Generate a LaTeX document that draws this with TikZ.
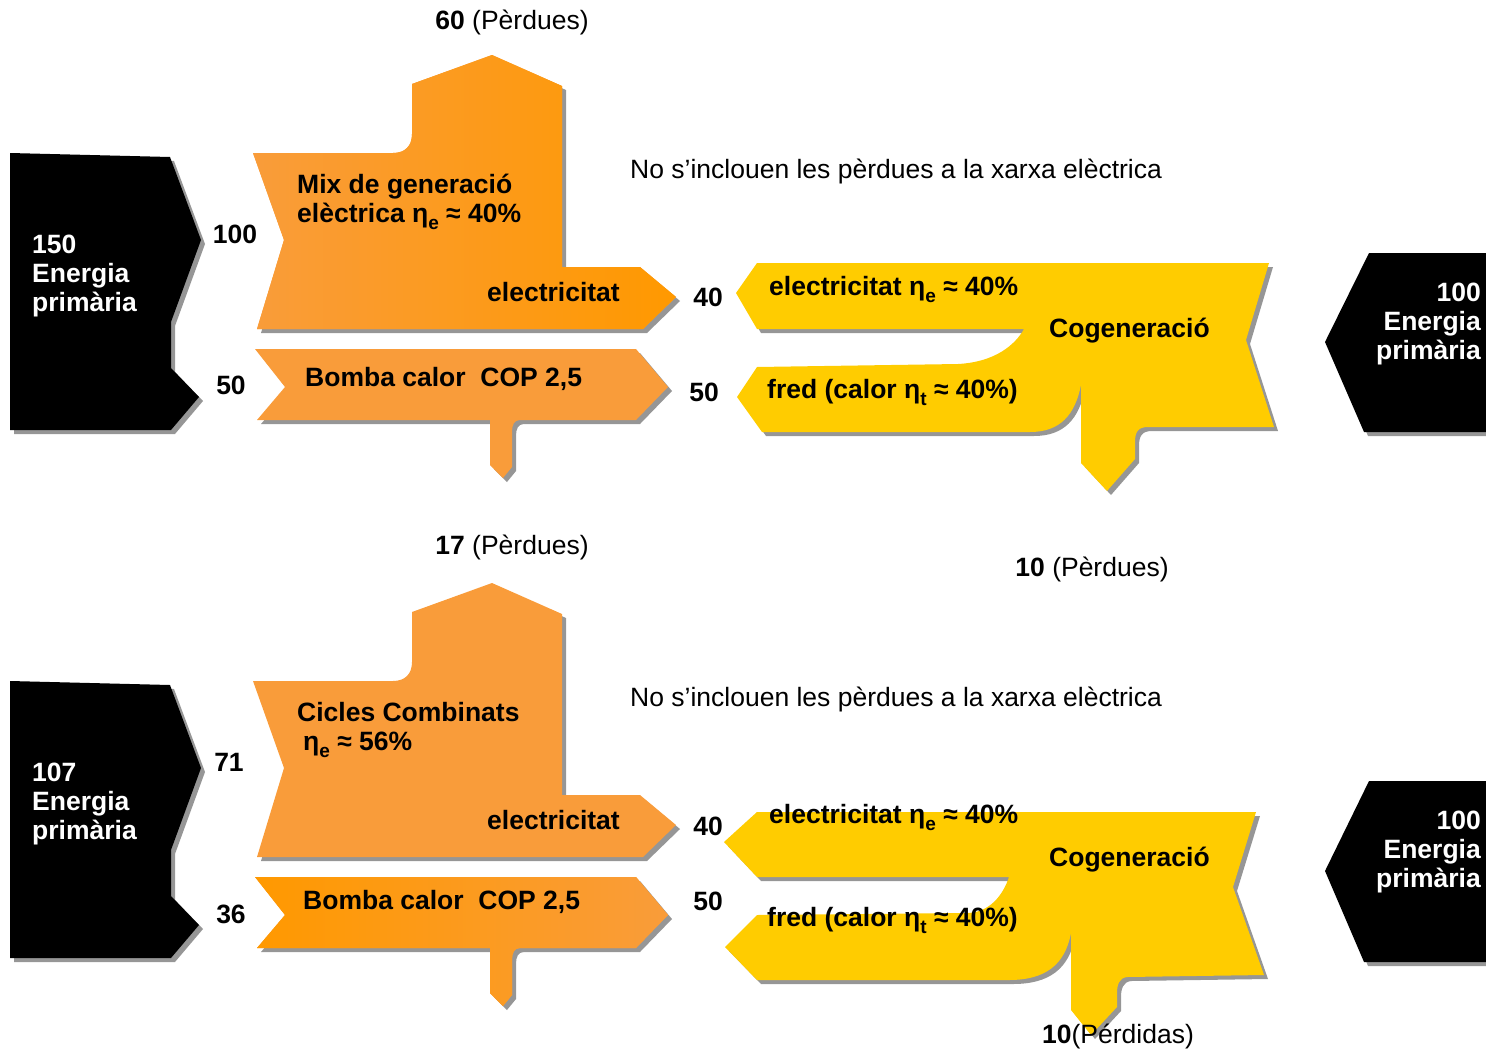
\documentclass[tikz,border=0pt]{standalone}
\usepackage{fontspec}
\setmainfont{Liberation Sans}
\usetikzlibrary{shadows}
\definecolor{mixorange}{RGB}{249,156,58}
\definecolor{deeporange}{RGB}{255,153,0}
\definecolor{cogenyellow}{RGB}{255,204,0}
\definecolor{shadowgray}{RGB}{150,150,150}
\newcommand{\flowsub}[1]{\raisebox{-7pt}{\fontsize{19}{19}\selectfont #1}}

\begin{document}
\begin{tikzpicture}[x=1pt,y=-1pt,
  flowshadow/.style={drop shadow={shadow xshift=4pt,shadow yshift=-4pt,fill=shadowgray,opacity=1}},
  primflow/.style={fill=black,flowshadow},
  elecflow/.style={fill=mixorange,flowshadow},
  cogenflow/.style={fill=cogenyellow,flowshadow},
  flowtext/.style={font=\fontsize{26.5}{29}\selectfont\bfseries,anchor=base west,inner sep=0pt},
  numlabel/.style={font=\fontsize{26.5}{29}\selectfont\bfseries,anchor=base,inner sep=0pt},
  primtext/.style={font=\fontsize{26.5}{29}\selectfont\bfseries,text=white,inner sep=0pt},
  plaintext/.style={font=\fontsize{26.5}{29}\selectfont,inner sep=0pt}]
\useasboundingbox (0,0) rectangle (1486,1050);

% Upper case: primary energy blocks
\fill[primflow] (10,153) -- (170,157) -- (201,240) -- (171,322) -- (171,368) -- (199,397) -- (171,430) -- (10,430) -- cycle;
\fill[primflow] (1369,253) -- (1486,253) -- (1486,432) -- (1364,432) -- (1325,342) -- cycle;

% Upper case: mix and heat pump
\fill[elecflow,left color=mixorange,right color=deeporange] (253,153) -- (393,153) .. controls (405,153) and (412,146) .. (412,134) -- (412,84) -- (492,55) -- (562,86) -- (562,267) -- (640,267) -- (676,297) -- (643,329) -- (257,329) -- (284,240) -- cycle;
\fill[elecflow] (255,349) -- (636,349) -- (668,387) -- (636,420) -- (520,420) .. controls (514,420) and (512,425) .. (512,432) -- (512,467) -- (503,478) -- (490,465) -- (490,420) -- (257,420) -- (285,387) -- cycle;

% Upper case: cogeneration
\fill[cogenflow] (736,293) -- (757,263) -- (1269,263) -- (1246,340) -- (1274,427) -- (1148,427) .. controls (1138,427) and (1135,432) .. (1135,442) -- (1135,459) -- (1107,491) -- (1081,463) -- (1081,385) .. controls (1075,415) and (1060,432) .. (1030,432) -- (762,432) -- (737,397) -- (757,367) -- (958,364) .. controls (995,362) and (1015,345) .. (1024,329) -- (757,329) -- cycle;

% Lower case: primary energy blocks
\fill[primflow] (10,681) -- (170,685) -- (201,768) -- (171,850) -- (171,896) -- (199,925) -- (171,958) -- (10,958) -- cycle;
\fill[primflow] (1369,781) -- (1486,781) -- (1486,962) -- (1364,962) -- (1325,871) -- cycle;

% Lower case: combined cycles and heat pump
\fill[elecflow] (253,681) -- (393,681) .. controls (405,681) and (412,674) .. (412,662) -- (412,612) -- (492,583) -- (562,614) -- (562,795) -- (640,795) -- (676,825) -- (643,857) -- (257,857) -- (284,768) -- cycle;
\fill[elecflow,left color=deeporange,right color=mixorange] (255,877) -- (636,877) -- (668,915) -- (636,948) -- (520,948) .. controls (514,948) and (512,953) .. (512,960) -- (512,995) -- (503,1006) -- (490,993) -- (490,948) -- (257,948) -- (285,915) -- cycle;

% Lower case: cogeneration
\fill[cogenflow] (724,842) -- (757,812) -- (1256,812) -- (1233,887) -- (1264,975) -- (1127,977) .. controls (1119,978) and (1117,985) .. (1117,993) -- (1117,1007) -- (1091,1035) -- (1071,1010) -- (1071,933) .. controls (1065,965) and (1045,980) .. (1009,980) -- (757,980) -- (725,947) -- (757,915) -- (968,913) .. controls (990,912) and (1003,895) .. (1009,877) -- (757,877) -- cycle;

% Upper case texts
\node[plaintext,anchor=base] (toploss) at (512,29) {\textbf{60} (Pèrdues)};
\node[plaintext,anchor=base west] (topnote) at (630,178) {No s’inclouen les pèrdues a la xarxa elèctrica};
\node[primtext,align=left,anchor=west] (topprim) at (32,276) {150\\Energia\\primària};
\node[primtext,align=right,anchor=east] (topcogprim) at (1481,323.5) {100\\Energia\\primària};
\node[numlabel] (topmixin) at (235,243) {100};
\node[numlabel] (toppumpin) at (231,394) {50};
\node[numlabel] (topelecout) at (708,306) {40};
\node[numlabel] (topcoldout) at (704,401) {50};
\node[flowtext] (topmix) at (297,193) {Mix de generació};
\node[flowtext] (topmixeff) at (297,222) {elèctrica η\flowsub{e} ≈ 40\%};
\node[flowtext] (topelec) at (487,301) {electricitat};
\node[flowtext] (toppump) at (305,386) {Bomba calor~~COP 2,5};
\node[flowtext] (topcogelec) at (769,295) {electricitat η\flowsub{e} ≈ 40\%};
\node[flowtext] (topcogen) at (1049,337) {Cogeneració};
\node[flowtext] (topcogcold) at (767,398) {fred (calor η\flowsub{t} ≈ 40\%)};

% Lower case texts
\node[plaintext,anchor=base] (botloss) at (512,554) {\textbf{17} (Pèrdues)};
\node[plaintext,anchor=base] (botcogloss) at (1092,576) {\textbf{10} (Pèrdues)};
\node[plaintext,anchor=base west] (botnote) at (630,706) {No s’inclouen les pèrdues a la xarxa elèctrica};
\node[primtext,align=left,anchor=west] (botprim) at (32,804) {107\\Energia\\primària};
\node[primtext,align=right,anchor=east] (botcogprim) at (1481,852) {100\\Energia\\primària};
\node[numlabel] (botmixin) at (229,771) {71};
\node[numlabel] (botpumpin) at (231,923) {36};
\node[numlabel] (botelecout) at (708,835) {40};
\node[numlabel] (botcoldout) at (708,910) {50};
\node[flowtext] (botcc) at (297,721) {Cicles Combinats};
\node[flowtext] (botcceff) at (303,750) {η\flowsub{e} ≈ 56\%};
\node[flowtext] (botelec) at (487,829) {electricitat};
\node[flowtext] (botpump) at (303,909) {Bomba calor~~COP 2,5};
\node[flowtext] (botcogelec) at (769,823) {electricitat η\flowsub{e} ≈ 40\%};
\node[flowtext] (botcogen) at (1049,866) {Cogeneració};
\node[flowtext] (botcogcold) at (767,926) {fred (calor η\flowsub{t} ≈ 40\%)};
\node[plaintext,anchor=base] (botdroploss) at (1118,1043) {\textbf{10}(Pérdidas)};
\end{tikzpicture}
\end{document}
